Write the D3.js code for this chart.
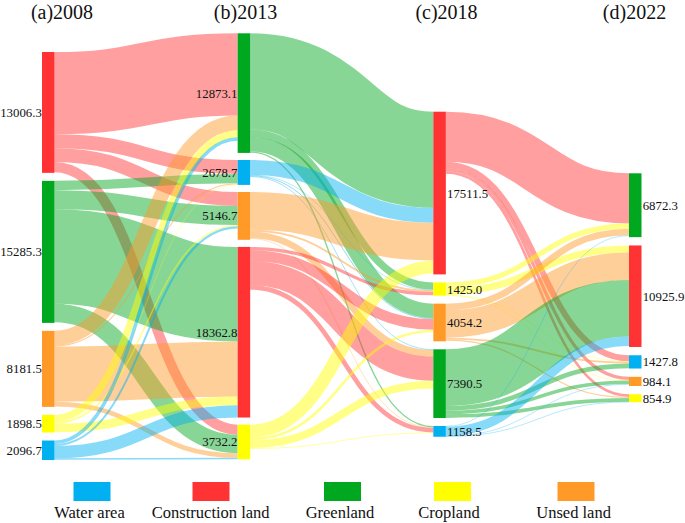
<!DOCTYPE html>
<html>
<head>
<meta charset="utf-8">
<script src="https://cdn.jsdelivr.net/npm/d3@7"></script>
<style>
  html, body { margin: 0; padding: 0; background: #fff; }
  svg { display: block; font-family: "Liberation Serif", "Times New Roman", serif; }
  svg text { font-family: "Liberation Serif", "Times New Roman", serif; fill: #111; }
</style>
</head>
<body>
<svg id="chart" width="685" height="523"></svg>
<script>
// ---------------- DATA ----------------
const years = ["(a)2008", "(b)2013", "(c)2018", "(d)2022"];
const legendKeys = ["Water", "Construction", "Greenland", "Cropland", "Unused"];
const legendLabels = ["Water area", "Construction land", "Greenland", "Cropland", "Unsed land"];

// node order (top to bottom) and node values for each year
const order2008 = ["Construction", "Greenland", "Unused", "Cropland", "Water"];
const values2008 = [13006.3, 15285.3, 8181.5, 1898.5, 2096.7];
const order2013 = ["Greenland", "Water", "Unused", "Construction", "Cropland"];
const values2013 = [12873.1, 2678.7, 5146.7, 18362.8, 3732.2];
const order2018 = ["Construction", "Cropland", "Unused", "Greenland", "Water"];
const values2018 = [17511.5, 1425.0, 4054.2, 7390.5, 1158.5];
const order2022 = ["Greenland", "Construction", "Water", "Unused", "Cropland"];
const values2022 = [6872.3, 10925.9, 1427.8, 984.1, 854.9];

// flows [from, to, value]
const flows2008to2013 = [
  ["Construction", "Greenland", 8850], ["Construction", "Water", 1500],
  ["Construction", "Unused", 1500], ["Construction", "Cropland", 1080],
  ["Greenland", "Water", 1000], ["Greenland", "Unused", 2050],
  ["Greenland", "Construction", 10170], ["Greenland", "Cropland", 1990],
  ["Unused", "Greenland", 1580], ["Unused", "Water", 120],
  ["Unused", "Construction", 5940], ["Unused", "Cropland", 500],
  ["Cropland", "Greenland", 760], ["Cropland", "Water", 50],
  ["Cropland", "Unused", 150], ["Cropland", "Construction", 920],
  ["Water", "Greenland", 370], ["Water", "Unused", 220],
  ["Water", "Construction", 1330], ["Water", "Cropland", 150]
];
const flows2013to2018 = [
  ["Greenland", "Construction", 10350], ["Greenland", "Cropland", 800],
  ["Greenland", "Unused", 1550], ["Greenland", "Water", 150],
  ["Water", "Construction", 1600], ["Water", "Cropland", 40],
  ["Water", "Unused", 100], ["Water", "Greenland", 80],
  ["Unused", "Construction", 4070], ["Unused", "Cropland", 200],
  ["Unused", "Greenland", 700], ["Unused", "Water", 60],
  ["Construction", "Cropland", 350], ["Construction", "Unused", 1150],
  ["Construction", "Greenland", 2600], ["Construction", "Water", 500],
  ["Cropland", "Construction", 1400], ["Cropland", "Unused", 280],
  ["Cropland", "Greenland", 850], ["Cropland", "Water", 80]
];
const flows2018to2022 = [
  ["Construction", "Greenland", 5400], ["Construction", "Water", 650],
  ["Construction", "Unused", 350], ["Construction", "Cropland", 280],
  ["Cropland", "Greenland", 560], ["Cropland", "Construction", 760],
  ["Cropland", "Water", 40], ["Cropland", "Unused", 50],
  ["Unused", "Greenland", 720], ["Unused", "Construction", 2950],
  ["Unused", "Water", 200], ["Unused", "Cropland", 130],
  ["Greenland", "Construction", 6100], ["Greenland", "Water", 500],
  ["Greenland", "Unused", 380], ["Greenland", "Cropland", 400],
  ["Water", "Greenland", 60], ["Water", "Construction", 1000],
  ["Water", "Unused", 60], ["Water", "Cropland", 30]
];

// ---------------- LAYOUT / STYLE ----------------
const FONT = "'Liberation Serif', 'Times New Roman', serif";
const colors = { Water: "#00B0F0", Construction: "#FF3333", Greenland: "#00A820", Cropland: "#FFFF00", Unused: "#FF9A28" };
const columns = [
  { order: order2008, values: values2008 },
  { order: order2013, values: values2013 },
  { order: order2018, values: values2018 },
  { order: order2022, values: values2022 }
];
const flowSets = [flows2008to2013, flows2013to2018, flows2018to2022];
const colTop = [52, 33.3, 111.7, 173.3];
const colGap = [8, 7.1, 8, 8.3];
const nodeW = 12.5;
const headerX = [62, 245.5, 446.5, 634.5];
const legendX = [92, 211, 342.5, 452.5, 576];
const legendTextX = [89.5, 210.7, 340, 449, 573.6];

const svg = d3.select("#chart");
const x = d3.scalePoint().domain(d3.range(4)).range([42, 629]);
const h = d3.scaleLinear().domain([0, d3.sum(values2008)]).range([0, 376]);

// build nodes
const nodes = columns.map((col, ci) => {
  let y = colTop[ci];
  return col.order.map((key, i) => {
    const n = { key, col: ci, idx: i, value: col.values[i], x0: x(ci), x1: x(ci) + nodeW, y0: y };
    n.y1 = y + h(n.value);
    y = n.y1 + colGap[ci];
    return n;
  });
});

// build links
const links = [];
flowSets.forEach((flows, fi) => {
  const srcNodes = nodes[fi], tgtNodes = nodes[fi + 1];
  const find = (arr, k) => arr.find(n => n.key === k);
  const ls = flows.map(([s, t, v]) => ({ source: find(srcNodes, s), target: find(tgtNodes, t), value: v, w: h(v) }));
  srcNodes.forEach(n => {
    let off = n.y0;
    ls.filter(l => l.source === n).sort((a, b) => a.target.idx - b.target.idx)
      .forEach(l => { l.sy = off + l.w / 2; off += l.w; });
  });
  tgtNodes.forEach(n => {
    let off = n.y0;
    ls.filter(l => l.target === n).sort((a, b) => a.source.idx - b.source.idx)
      .forEach(l => { l.ty = off + l.w / 2; off += l.w; });
  });
  links.push(...ls);
});

const linkGen = d3.linkHorizontal();
svg.append("g").selectAll("path").data(links).join("path")
  .attr("d", l => linkGen({ source: [l.source.x1, l.sy], target: [l.target.x0, l.ty] }))
  .attr("fill", "none")
  .attr("stroke", l => colors[l.source.key])
  .attr("stroke-opacity", 0.47)
  .attr("stroke-width", l => Math.max(0.6, l.w));

const allNodes = nodes.flat();
svg.append("g").selectAll("rect").data(allNodes).join("rect")
  .attr("x", n => n.x0).attr("y", n => n.y0)
  .attr("width", nodeW).attr("height", n => n.y1 - n.y0)
  .attr("fill", n => colors[n.key]);

svg.append("g").selectAll("text").data(allNodes).join("text")
  .attr("x", n => n.col < 2 ? n.x0 - 0.2 : n.x1 + 1.2)
  .attr("y", n => (n.y0 + n.y1) / 2)
  .attr("dy", "0.35em")
  .attr("text-anchor", n => n.col < 2 ? "end" : "start")
  .attr("font-family", FONT)
  .attr("font-size", 12.8)
  .text(n => d3.format(".1f")(n.value));

// headers
svg.append("g").selectAll("text").data(years).join("text")
  .attr("x", (d, i) => headerX[i]).attr("y", 18.5)
  .attr("text-anchor", "middle").attr("font-family", FONT).attr("font-size", 20)
  .text(d => d);

// legend
const lg = svg.append("g").selectAll("g").data(legendKeys).join("g");
lg.append("rect").attr("x", (d, i) => legendX[i] - 18.5).attr("y", 482).attr("width", 37).attr("height", 19)
  .attr("fill", d => colors[d]);
lg.append("text").attr("x", (d, i) => legendTextX[i]).attr("y", 518).attr("text-anchor", "middle")
  .attr("font-family", FONT).attr("font-size", 16.5).text((d, i) => legendLabels[i]);
</script>
</body>
</html>
